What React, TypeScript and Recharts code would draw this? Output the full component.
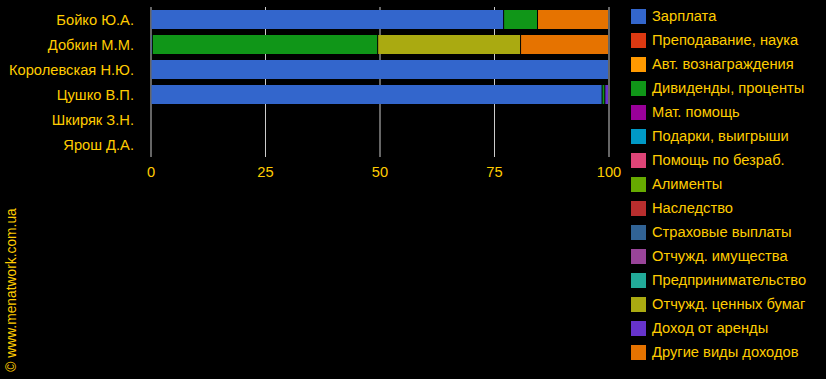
import React from 'react';
import {
  BarChart,
  Bar,
  XAxis,
  YAxis,
  CartesianGrid,
  Legend
} from 'recharts';

const categories = [
  'Бойко Ю.А.',
  'Добкин М.М.',
  'Королевская Н.Ю.',
  'Цушко В.П.',
  'Шкиряк З.Н.',
  'Ярош Д.А.'
];

const seriesNames = [
  'Зарплата',
  'Преподавание, наука',
  'Авт. вознаграждения',
  'Дивиденды, проценты',
  'Мат. помощь',
  'Подарки, выигрыши',
  'Помощь по безраб.',
  'Алименты',
  'Наследство',
  'Страховые выплаты',
  'Отчужд. имущества',
  'Предпринимательство',
  'Отчужд. ценных бумаг',
  'Доход от аренды',
  'Другие виды доходов'
];

const seriesColors = [
  '#3366cc', '#dc3912', '#ff9900', '#109618', '#990099',
  '#0099c6', '#dd4477', '#66aa00', '#b82e2e', '#316395',
  '#994499', '#22aa99', '#aaaa11', '#6633cc', '#e67300'
];

// share of income, % (one value per person)
const salary = [77.1, 0.4, 100, 98.6, 0, 0];
const teaching = [0, 0, 0, 0, 0, 0];
const royalties = [0, 0, 0, 0, 0, 0];
const dividends = [7.4, 49.2, 0, 0.6, 0, 0];
const aid = [0, 0, 0, 0, 0, 0];
const gifts = [0, 0, 0, 0, 0, 0];
const unemployment = [0, 0, 0, 0, 0, 0];
const alimony = [0, 0, 0, 0, 0, 0];
const inheritance = [0, 0, 0, 0, 0, 0];
const insurance = [0, 0, 0, 0, 0, 0];
const propertySale = [0, 0, 0, 0, 0, 0];
const business = [0, 0, 0, 0, 0, 0];
const securitiesSale = [0, 31.2, 0, 0, 0, 0];
const rent = [0, 0, 0, 0.8, 0, 0];
const other = [15.5, 19.2, 0, 0, 0, 0];

const xTicks = [0, 25, 50, 75, 100];

const seriesValues = [
  salary, teaching, royalties, dividends, aid, gifts, unemployment, alimony,
  inheritance, insurance, propertySale, business, securitiesSale, rent, other
];

const data = categories.map((name, i) => {
  const row: Record<string, string | number> = { name };
  seriesValues.forEach((vals, s) => {
    row['s' + s] = vals[i];
  });
  return row;
});

const TEXT = '#ffcc00';
const FONT = 'Arial, "Liberation Sans", sans-serif';
const FS = 14.7;

// segment with a 1px black gap on its right edge
const Segment = (props: any) => {
  const { x, y, width, height, fill } = props;
  if (!width || width <= 0) return null;
  return <rect x={x} y={y} width={Math.max(width - 1, 0.4)} height={height} fill={fill} />;
};

const renderLegend = (props: any) => {
  // keep the series order, not the alphabetical one
  const items = [...(props.payload || [])].sort(
    (a: any, b: any) => seriesNames.indexOf(a.value) - seriesNames.indexOf(b.value)
  );
  return (
    <div style={{ fontFamily: FONT, fontSize: FS, color: TEXT }}>
      {items.map((entry: any) => (
        <div
          key={entry.value}
          style={{ display: 'flex', alignItems: 'center', height: 24, whiteSpace: 'nowrap' }}
        >
          <span
            style={{
              display: 'inline-block',
              width: 15,
              height: 15,
              background: entry.color,
              marginRight: 6
            }}
          />
          <span>{entry.value}</span>
        </div>
      ))}
    </div>
  );
};

const App: React.FC = () => {
  return (
    <div
      style={{
        position: 'absolute',
        left: 0,
        top: 0,
        width: 826,
        height: 379,
        background: '#000',
        overflow: 'hidden'
      }}
    >
      <BarChart
        width={826}
        height={379}
        data={data}
        layout="vertical"
        margin={{ top: 7, right: 217, left: 0, bottom: 0 }}
        barSize={19}
      >
        <CartesianGrid horizontal={false} stroke="#cccccc" />
        <XAxis
          type="number"
          domain={[0, 100]}
          ticks={xTicks}
          height={222}
          axisLine={false}
          tickLine={false}
          tickMargin={4}
          tick={{ fill: TEXT, fontSize: FS, fontFamily: FONT }}
        />
        <YAxis
          type="category"
          dataKey="name"
          width={151}
          axisLine={{ stroke: '#666666' }}
          tickLine={false}
          tickSize={0}
          tickMargin={17}
          tick={{ fill: TEXT, fontSize: FS, fontFamily: FONT }}
        />
        {seriesNames.map((n, s) => (
          <Bar
            key={n}
            dataKey={'s' + s}
            name={n}
            stackId="a"
            fill={seriesColors[s]}
            shape={<Segment />}
            isAnimationActive={false}
          />
        ))}
        <Legend
          layout="vertical"
          align="center"
          verticalAlign="middle"
          content={renderLegend}
          wrapperStyle={{ position: 'absolute', left: 631, top: 4, width: 195 }}
        />
      </BarChart>
      <div
        style={{
          position: 'absolute',
          left: 11,
          top: 290,
          transform: 'translate(-50%, -50%) rotate(-90deg)',
          fontFamily: FONT,
          fontSize: 13.8,
          color: TEXT,
          whiteSpace: 'nowrap'
        }}
      >
        © www.menatwork.com.ua
      </div>
    </div>
  );
};

export default App;
